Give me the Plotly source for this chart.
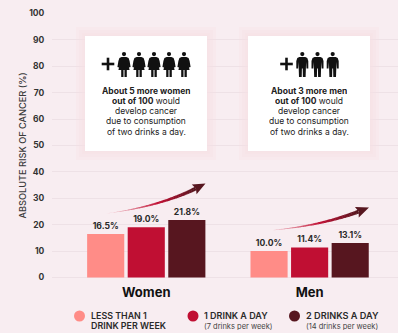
import plotly.graph_objects as go

groups = ["Women", "Men"]
series_names = ["Less than 1 drink per week", "1 drink a day", "2 drinks a day"]
less_than_one = [16.5, 10.0]
one_drink = [19.0, 11.4]
two_drinks = [21.8, 13.1]
colors = ["#FF8C87", "#C00F33", "#57161F"]
y_ticks = [0, 10, 20, 30, 40, 50, 60, 70, 80, 90, 100]

W, H = 398, 333
ML, MR, MT, MB = 52, 0, 13, 55
FONT = "Inter"
BG = "#F8EDF1"
INK = "#1A1A1A"


def px(x):
    return (x - ML) / (W - ML - MR)


def py(y):
    return (H - MB - y) / (H - MT - MB)


shapes = []
annotations = []


def rect(x0, y0, x1, y1, fill):
    shapes.append(dict(type="rect", xref="paper", yref="paper", x0=px(x0), x1=px(x1), y0=py(y0), y1=py(y1),
                       fillcolor=fill, line_width=0, layer="above"))


def circle(cx, cy, r, fill):
    shapes.append(dict(type="circle", xref="paper", yref="paper", x0=px(cx - r), x1=px(cx + r), y0=py(cy + r),
                       y1=py(cy - r), fillcolor=fill, line_width=0, layer="above"))


def poly(points, fill):
    d = "M" + " L".join(f"{px(a):.5f},{py(b):.5f}" for a, b in points) + " Z"
    shapes.append(dict(type="path", xref="paper", yref="paper", path=d, fillcolor=fill, line_width=0, layer="above"))


def text(x, y, s, size, color=INK, anchor="left", weight=400, angle=0):
    annotations.append(dict(xref="paper", yref="paper", x=px(x), y=py(y), text=s, showarrow=False, xanchor=anchor,
                            yanchor="middle", align=anchor, textangle=angle, borderpad=0, height=size + 0.5,
                            font=dict(family=FONT, size=size, color=color, weight=weight))
                       if angle == 0 else
                       dict(xref="paper", yref="paper", x=px(x), y=py(y), text=s, showarrow=False, xanchor=anchor,
                            yanchor="middle", align=anchor, textangle=angle, borderpad=0,
                            font=dict(family=FONT, size=size, color=color, weight=weight)))


WOMAN = [(-2.4, 5), (2.4, 5), (4.6, 6), (5.6, 9), (6.6, 15), (5, 15.6), (3.6, 10), (5.6, 18), (2.8, 18), (2.8, 25),
         (0.5, 25), (0.5, 18), (-0.5, 18), (-0.5, 25), (-2.8, 25), (-2.8, 18), (-5.6, 18), (-3.6, 10), (-5, 15.6),
         (-6.6, 15), (-5.6, 9), (-4.6, 6)]
MAN = [(-3, 5), (3, 5), (5, 6), (6, 9), (6, 16.5), (4.2, 16.5), (3.8, 10), (3.3, 25), (0.6, 25), (0.4, 16.5),
       (-0.4, 16.5), (-0.6, 25), (-3.3, 25), (-3.8, 10), (-4.2, 16.5), (-6, 16.5), (-6, 9), (-5, 6)]


def person(cx, top, outline):
    circle(cx, top + 2.1, 2.1, "#111111")
    poly([(cx + a, top + b) for a, b in outline], "#111111")


def plus(cx, cy):
    rect(cx - 6.3, cy - 1.3, cx + 6.3, cy + 1.3, "#111111")
    rect(cx - 1.3, cy - 6.3, cx + 1.3, cy + 6.3, "#111111")


def card(x0, x1, y0, y1):
    for g, a in ((9, 0.10), (6, 0.12), (3, 0.14), (1.5, 0.12)):
        rect(x0 - g, y0 - g, x1 + g, y1 + g, f"rgba(246,224,228,{a * 2.5})")
    rect(x0, y0, x1, y1, "#FFFFFF")


def arrow(x0, y0, cx, cy, x1, y1, n=36):
    def lerp(a, b, t):
        return round(a + (b - a) * t)

    start, mid, end = (246, 215, 220), (192, 15, 51), (87, 22, 31)
    head_t = 0.88

    def pt(t):
        return ((1 - t) ** 2 * x0 + 2 * t * (1 - t) * cx + t * t * x1,
                (1 - t) ** 2 * y0 + 2 * t * (1 - t) * cy + t * t * y1)

    def edge(t):
        a, b = pt(max(t - 0.01, 0)), pt(min(t + 0.01, 1))
        dx, dy = b[0] - a[0], b[1] - a[1]
        ln = (dx * dx + dy * dy) ** 0.5
        w = 1.9 * t / head_t
        p = pt(t)
        return (p[0] - dy / ln * w, p[1] + dx / ln * w), (p[0] + dy / ln * w, p[1] - dx / ln * w), (dx / ln, dy / ln), p

    for i in range(n):
        t0, t1 = head_t * i / n, head_t * (i + 1.15) / n
        l0, r0, _, _ = edge(t0)
        l1, r1, _, _ = edge(t1)
        f = i / (n - 1)
        if f < 0.55:
            c = [lerp(start[k], mid[k], f / 0.55) for k in range(3)]
        else:
            c = [lerp(mid[k], end[k], (f - 0.55) / 0.45) for k in range(3)]
        poly([l0, l1, r1, r0], f"rgb({c[0]},{c[1]},{c[2]})")
    _, _, u, p = edge(head_t)
    nx, ny = -u[1], u[0]
    poly([(x1, y1), (p[0] + nx * 5.5 - u[0] * 1.5, p[1] + ny * 5.5 - u[1] * 1.5), (p[0] + u[0] * 0.5, p[1] + u[1] * 0.5),
          (p[0] - nx * 5.5 - u[0] * 1.5, p[1] - ny * 5.5 - u[1] * 1.5)], "#57161F")


# Information cards
card(85, 207, 36, 151)
card(248, 370, 36, 151)
plus(108, 64)
for c in (124, 139, 154, 169, 184):
    person(c, 52, WOMAN)
plus(286.5, 64)
for c in (302.3, 317.5, 332.7):
    person(c, 52, MAN)

LINE_Y = [90, 100.3, 110.5, 120.7, 131]
women_lines = ["<b>About 5 more women</b>", "<b>out of 100</b> would", "develop cancer", "due to consumption",
               "of two drinks a day."]
men_lines = ["<b>About 3 more men</b>", "<b>out of 100</b> would", "develop cancer", "due to consumption",
             "of two drinks a day."]
for ly, wl, ml in zip(LINE_Y, women_lines, men_lines):
    text(146, ly, wl, 8.5, "#222222", "center")
    text(309, ly, ml, 8.5, "#222222", "center")

# Trend arrows
arrow(106, 213.5, 165, 206, 205.5, 183.5)
arrow(268, 230.5, 325, 226, 369, 207.5)

# Y axis title
text(22, 145.5, "ABSOLUTE RISK OF CANCER (%)", 9.2, "#3A3A3A", "center", 500, -90)

# Legend
circle(79.5, 316, 5.5, colors[0])
circle(193, 316, 5.5, colors[1])
circle(294.5, 316, 5.5, colors[2])
text(89.5, 315.7, "LESS THAN 1", 8.9, "#2A2A2A", weight=600)
text(89.5, 325.7, "DRINK PER WEEK", 8.9, "#2A2A2A", weight=600)
text(203, 315.7, "1 DRINK A DAY", 9, "#2A2A2A", weight=600)
text(203, 325.7, "(7 drinks per week)", 7.5, "#444444")
text(305, 315.7, "2 DRINKS A DAY", 9.2, "#2A2A2A", weight=600)
text(305, 325.7, "(14 drinks per week)", 7.5, "#444444")

fig = go.Figure()
for name, vals, col in zip(series_names, (less_than_one, one_drink, two_drinks), colors):
    fig.add_trace(go.Bar(x=groups, y=vals, name=name, marker=dict(color=col, line_width=0),
                         text=[f"{v:.1f}%" for v in vals], textposition="outside", cliponaxis=False,
                         textfont=dict(family=FONT, size=8.6, color="#2A2A2A", weight=700)))

fig.update_layout(
    width=W, height=H, margin=dict(l=ML, r=MR, t=MT, b=MB, autoexpand=False),
    paper_bgcolor=BG, plot_bgcolor=BG, showlegend=False,
    barmode="group", bargap=0.255, bargroupgap=0.085,
    shapes=shapes, annotations=annotations,
    xaxis=dict(type="category", range=[-0.577, 1.541], showgrid=False, zeroline=False, showline=False,
               ticks="", ticklen=0, ticklabelstandoff=5,
               tickfont=dict(family=FONT, size=13, color="#111111", weight=700)),
    yaxis=dict(range=[-0.19, 100.19], tickvals=y_ticks, showgrid=True, gridcolor="#EEE1E6", gridwidth=1.2,
               zeroline=True, zerolinecolor="#EEE1E6", zerolinewidth=1.2, showline=False,
               ticks="outside", ticklen=5, tickcolor="rgba(0,0,0,0)",
               tickfont=dict(family=FONT, size=8.5, color="#333333", weight=700)),
)

fig.write_html("out.html", config=dict(displayModeBar=False),
               post_script="document.body.style.margin='0';document.body.style.overflow='hidden';document.documentElement.style.background='" + BG + "';")
